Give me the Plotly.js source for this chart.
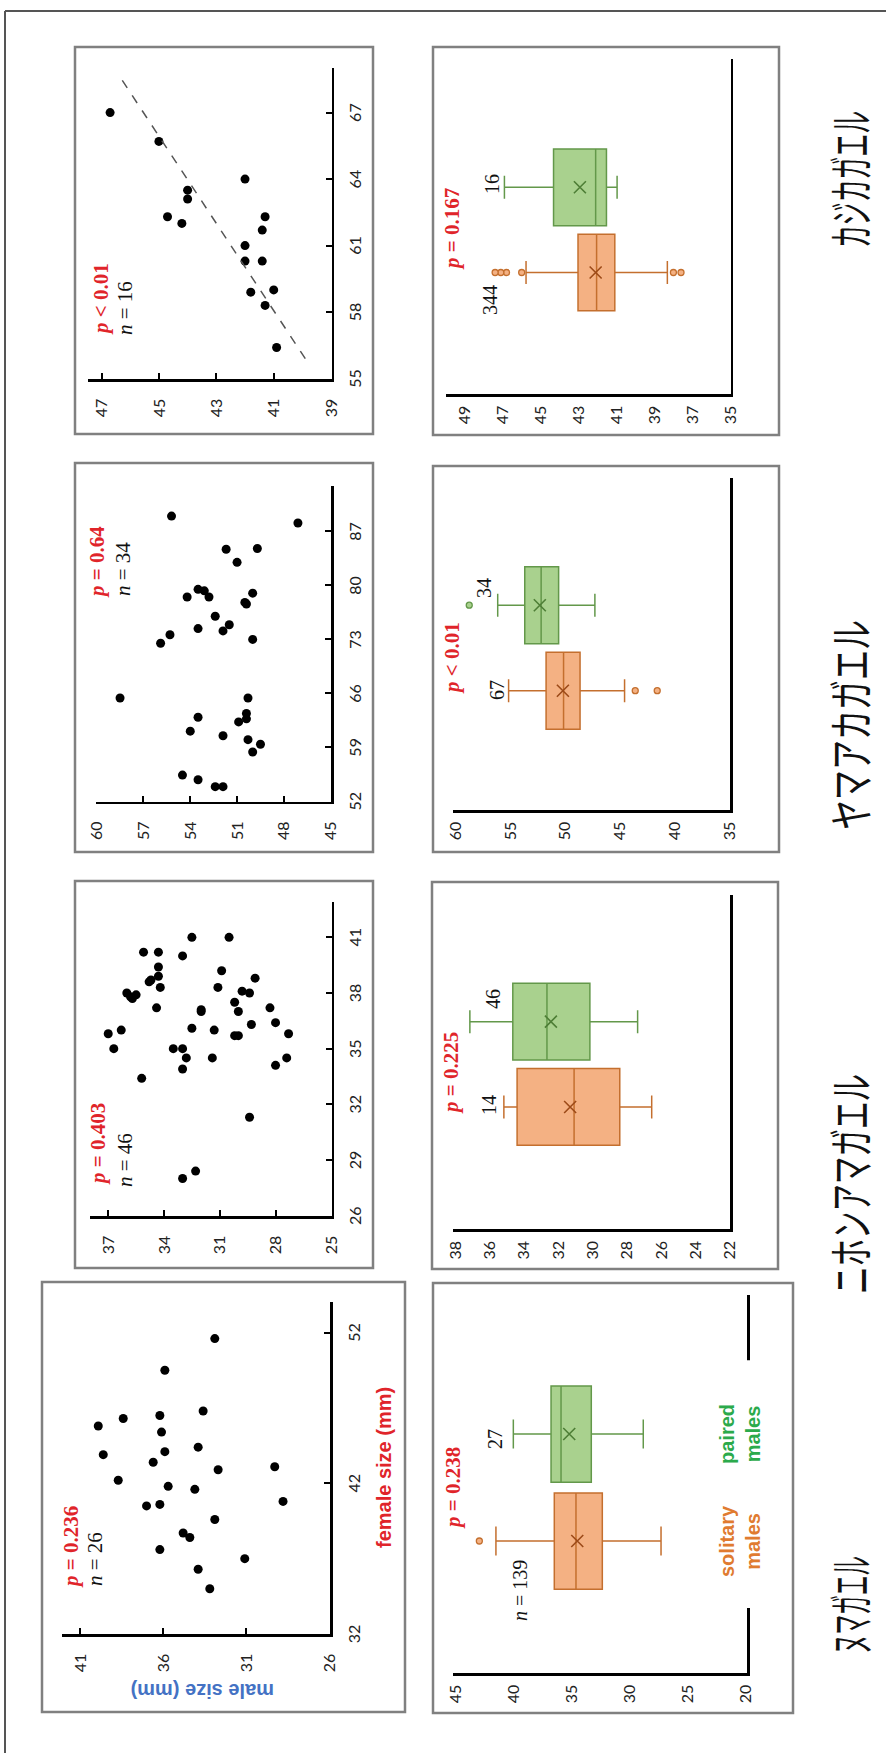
<!DOCTYPE html>
<html><head><meta charset="utf-8">
<script src="https://cdn.plot.ly/plotly-3.0.1.min.js"></script>
<style>
html,body{margin:0;padding:0;overflow:hidden;background:#fff;width:886px;height:1753px;}
#wrap{position:absolute;left:0;top:0;width:1753px;height:886px;transform-origin:0 0;transform:translate(0px,1753px) rotate(-90deg);}
</style></head><body>
<div id="wrap"><div id="chart" style="width:1753px;height:886px;"></div></div>
<script>
// ---------------- DATA ----------------
const species = ['ヌマガエル','ニホンアマガエル','ヤマアカガエル','カジカガエル'];
const groupLabels = ['solitary<br>males','paired<br>males'];
const boxPos = [0, 1];

// scatter: female size (x) vs male size (y)
const numaFemale = [45.8,43.9,46.3,42.2,43.4,40.5,40.6,46.5,45.4,44.1,41.8,49.5,37.6,38.7,38.4,41.6,44.4,46.8,36.3,35.0,39.6,42.9,51.6,37.0,43.1,40.8];
const numaMale   = [39.9,39.6,38.4,38.7,36.6,37.0,36.2,36.2,36.1,35.9,35.7,35.9,36.2,34.8,34.4,34.1,33.9,33.6,33.9,33.2,32.9,32.7,32.9,31.1,29.3,28.8];
const nihonFemale = [35.8,35.0,36.0,38.0,37.8,37.7,37.9,33.4,40.2,38.6,38.7,37.2,40.2,39.4,38.9,38.3,35.0,35.0,33.9,34.5,28.0,28.4,40.0,41.0,36.1,37.1,37.0,34.5,36.0,38.3,39.2,41.0,37.5,37.0,35.7,35.7,38.1,38.0,36.3,31.3,38.8,37.2,36.4,34.1,34.5,35.8];
const nihonMale   = [37.0,36.7,36.3,36.0,35.8,35.7,35.5,35.2,35.1,34.8,34.7,34.4,34.3,34.3,34.3,34.2,33.5,33.0,33.0,32.8,33.0,32.3,33.0,32.5,32.5,32.0,32.0,31.4,31.3,31.1,30.9,30.5,30.2,30.0,30.2,30.0,29.8,29.4,29.3,29.4,29.1,28.3,28.0,28.0,27.4,27.3];
const yamaFemale = [89.0,88.1,84.7,84.8,83.0,78.5,79.5,79.3,78.5,79.0,77.8,77.6,76.0,74.4,74.1,74.9,72.5,73.6,73.0,65.4,65.4,62.9,63.4,62.7,62.3,61.1,60.5,60.0,59.4,58.4,55.4,54.8,53.9,53.9];
const yamaMale   = [55.2,47.1,51.7,49.7,51.0,54.2,53.5,53.1,52.8,50.0,50.5,50.4,52.4,53.5,51.9,51.5,55.9,55.3,50.0,58.5,50.3,53.5,50.4,50.4,50.9,54.0,51.9,50.3,49.5,50.0,54.5,53.5,52.4,51.9];
const kajikaFemale = [67.0,65.7,62.3,62.0,63.5,63.1,64.0,62.3,61.7,61.0,60.3,60.3,58.9,59.0,58.3,56.4];
const kajikaMale   = [46.7,45.0,44.7,44.2,44.0,44.0,42.0,41.3,41.4,42.0,42.0,41.4,41.8,41.0,41.3,40.9];
const kajikaTrendX = [55.9, 68.5];
const kajikaTrendY = [39.9, 46.3];

// box plots: [solitary, paired]
const numaQ1 = [32.3, 33.25], numaMed = [34.57, 35.86], numaQ3 = [36.44, 36.72], numaLo = [27.24, 28.77], numaHi = [41.47, 39.97], numaMean = [34.46, 35.15];
const nihonQ1 = [28.4, 30.14], nihonMed = [31.06, 32.64], nihonQ3 = [34.38, 34.63], nihonLo = [26.54, 27.36], nihonHi = [35.15, 37.13], nihonMean = [31.29, 32.41];
const yamaQ1 = [48.62, 50.57], yamaMed = [50.12, 52.16], yamaQ3 = [51.71, 53.65], yamaLo = [44.57, 47.27], yamaHi = [55.12, 56.11], yamaMean = [50.18, 52.28];
const kajikaQ1 = [41.09, 41.53], kajikaMed = [42.05, 42.10], kajikaQ3 = [43.03, 44.32], kajikaLo = [38.32, 40.97], kajikaHi = [45.77, 46.91], kajikaMean = [42.10, 42.93];
const numaOutSol = [42.9], numaOutPair = [];
const nihonOutSol = [], nihonOutPair = [];
const yamaOutSol = [43.6, 41.6], yamaOutPair = [58.7];
const kajikaOutSol = [46.0, 46.8, 47.1, 47.4, 38.0, 37.6], kajikaOutPair = [];

// labels
const scatterPSign = ['=', '=', '=', '<'];
const scatterPVal = ['0.236', '0.403', '0.64', '0.01'];
const scatterN = [26, 46, 34, 16];
const boxPSign = ['=', '=', '<', '='];
const boxPVal = ['0.238', '0.225', '0.01', '0.167'];
const boxNSol = [139, 14, 67, 344];
const boxNPair = [27, 46, 34, 16];

// tick values
const scatterXTicks = [[32,42,52],[26,29,32,35,38,41],[52,59,66,73,80,87],[55,58,61,64,67]];
const scatterYTicks = [[26,31,36,41],[25,28,31,34,37],[45,48,51,54,57,60],[39,41,43,45,47]];
const boxYTicks = [[20,25,30,35,40,45],[22,24,26,28,30,32,34,36,38],[35,40,45,50,55,60],[35,37,39,41,43,45,47,49]];

// ---------------- LAYOUT HELPERS ----------------
const W = 1753, H = 886;
const px = X => X / W;
const py = Y => 1 - Y / H;
const RED = '#e0242a';
const ORF = '#F4B183', ORL = '#C46F2E', ORX = '#9C4A18';
const GRF = '#A9D18E', GRL = '#63984A', GRX = '#4E7E36';

const layout = {
  width: W, height: H, margin: {l:0, r:0, t:0, b:0},
  paper_bgcolor: '#ffffff', plot_bgcolor: 'rgba(0,0,0,0)',
  showlegend: false, boxmode: 'overlay',
  annotations: [], shapes: []
};
const tickFont = {family: 'Lato, "Liberation Sans", sans-serif', size: 16, color: '#222'};
const baseAx = {showgrid:false, zeroline:false, showline:true, linecolor:'#000', linewidth:2.5, fixedrange:true, tickfont:tickFont, type:'linear'};

// panel geometry in landscape pixels: [X0, X1, Y0(top), Y1(bottom)], ranges
const scatterGeo = [[119,451.3,62.3,330],[537,851.3,90,331.7],[951.3,1267,95.7,331],[1374,1684.7,88.3,331.7]];
const scatterXR = [[32,54.05],[25.98,42.92],[51.95,92.9],[54.98,69.0]];
const scatterYR = [[25.98,42.06],[24.98,37.98],[44.98,60.06],[38.98,47.46]];
const boxGeo = [[80,458,453,747],[523.7,858,452.7,730],[943,1274.7,453.3,730],[1359,1693.7,446,730.7]];
const boxXR = [[-1.234,2.30],[-1.434,2.485],[-1.395,2.484],[-1.426,2.502]];
const boxYR = [[19.83,45.17],[21.98,38.13],[34.98,60.15],[34.98,49.99]];

function axName(k){ return k===1 ? ['xaxis','yaxis','x','y'] : ['xaxis'+k,'yaxis'+k,'x'+k,'y'+k]; }

const traces = [];
const scatterX = [numaFemale, nihonFemale, yamaFemale, kajikaFemale];
const scatterY = [numaMale, nihonMale, yamaMale, kajikaMale];
const bQ1=[numaQ1,nihonQ1,yamaQ1,kajikaQ1], bMed=[numaMed,nihonMed,yamaMed,kajikaMed], bQ3=[numaQ3,nihonQ3,yamaQ3,kajikaQ3];
const bLo=[numaLo,nihonLo,yamaLo,kajikaLo], bHi=[numaHi,nihonHi,yamaHi,kajikaHi], bMean=[numaMean,nihonMean,yamaMean,kajikaMean];
const bOut=[[numaOutSol,numaOutPair],[nihonOutSol,nihonOutPair],[yamaOutSol,yamaOutPair],[kajikaOutSol,kajikaOutPair]];

for (let i=0;i<4;i++){
  const ks = 2*i+1, kb = 2*i+2;
  const [sxn, syn, sxa, sya] = axName(ks);
  const g = scatterGeo[i];
  layout[sxn] = Object.assign({}, baseAx, {domain:[px(g[0]),px(g[1])], range:scatterXR[i], anchor:sya,
     tickvals:scatterXTicks[i], ticks:'inside', ticklen:6, tickwidth:2, tickcolor:'#000', ticklabelstandoff:8});
  layout[syn] = Object.assign({}, baseAx, {domain:[py(g[3]),py(g[2])], range:scatterYR[i], anchor:sxa,
     tickvals:scatterYTicks[i], ticks:'inside', ticklen:6, tickwidth:2, tickcolor:'#000', ticklabelstandoff:14});
  traces.push({type:'scatter', mode:'markers', x:scatterX[i], y:scatterY[i], xaxis:sxa, yaxis:sya,
     marker:{color:'#000', size:9}, hoverinfo:'skip'});

  const [bxn, byn, bxa, bya] = axName(kb);
  const b = boxGeo[i];
  layout[bxn] = Object.assign({}, baseAx, {domain:[px(b[0]),px(b[1])], range:boxXR[i], anchor:bya,
     showticklabels:false, ticks:''});
  layout[byn] = Object.assign({}, baseAx, {domain:[py(b[3]),py(b[2])], range:boxYR[i], anchor:bxa,
     tickvals:boxYTicks[i], ticks:'', ticklabelstandoff:6});
  for (let k=0;k<2;k++){
    traces.push({type:'box', xaxis:bxa, yaxis:bya, x:[boxPos[k]],
      q1:[bQ1[i][k]], median:[bMed[i][k]], q3:[bQ3[i][k]], lowerfence:[bLo[i][k]], upperfence:[bHi[i][k]],
      width:0.9, whiskerwidth:0.3, boxpoints:false,
      fillcolor: k===0?ORF:GRF, line:{color: k===0?ORL:GRL, width:1.5}, hoverinfo:'skip'});
    const outs = bOut[i][k];
    if (outs.length){
      traces.push({type:'scatter', mode:'markers', xaxis:bxa, yaxis:bya, x:outs.map(()=>boxPos[k]), y:outs,
        marker:{symbol:'circle', size:6, color:k===0?ORF:GRF, line:{color:k===0?ORL:GRL, width:1.3}}, hoverinfo:'skip'});
    }
  }
  traces.push({type:'scatter', mode:'markers', xaxis:bxa, yaxis:bya, x:boxPos, y:bMean[i],
     marker:{symbol:'x-thin-open', size:12, color:[ORX,GRX], line:{width:1.6, color:[ORX,GRX]}}, hoverinfo:'skip'});
}
traces.push({type:'scatter', mode:'lines', x:kajikaTrendX, y:kajikaTrendY, xaxis:'x7', yaxis:'y7',
  line:{color:'#555', width:1.5, dash:'dash'}, hoverinfo:'skip'});

// ---------------- SHAPES ----------------
const frames = [[41,471,42,405],[40,470,433,793],[485,872,75,373],[484,871,432,778],[901,1290,75,373],[901,1287,433,779],[1319,1706,75,373],[1318,1706,433,779]];
frames.forEach(f => layout.shapes.push({type:'rect', xref:'paper', yref:'paper', x0:px(f[0]), x1:px(f[1]), y0:py(f[3]), y1:py(f[2]),
  line:{color:'#808080', width:2.5}, fillcolor:'rgba(0,0,0,0)', layer:'below'}));
layout.shapes.push({type:'line', xref:'paper', yref:'paper', x0:0, x1:px(1742), y0:py(5), y1:py(5), line:{color:'#555', width:2}});
layout.shapes.push({type:'line', xref:'paper', yref:'paper', x0:px(1742), x1:px(1742), y0:py(5), y1:0, line:{color:'#555', width:2}});
layout.shapes.push({type:'rect', xref:'x2', yref:'paper', x0:-0.626, x1:1.69, y0:py(757), y1:py(738),
  fillcolor:'#ffffff', line:{width:0}, layer:'above'});

// ---------------- ANNOTATIONS ----------------
const A = layout.annotations;
function ann(text, X, Y, o){ A.push(Object.assign({xref:'paper', yref:'paper', x:px(X), y:py(Y), text:text, showarrow:false,
  xanchor:'left', yanchor:'middle'}, o)); }
const serif = 'Liberation Serif, "Times New Roman", serif';
const sPpos = [[163,71],[566,98],[1153,97],[1416,101]];
const sNpos = [[165,95],[564,125],[1155,123],[1416,125]];
for (let i=0;i<4;i++){
  ann('<b><i>p</i> '+scatterPSign[i]+' '+scatterPVal[i]+'</b>', sPpos[i][0], sPpos[i][1], {font:{family:serif, size:21, color:RED}});
  ann('<i>n</i> = '+scatterN[i], sNpos[i][0], sNpos[i][1], {font:{family:serif, size:21, color:'#111'}});
}
const bPpos = [[265,453],[680,451],[1095,452],[1524,452]];
const bSolPos = [[195,520],[648,489],[1063,497],[1453,490]];
const bPairPos = [[314,495],[754,493],[1165,484],[1569,492]];
for (let i=0;i<4;i++){
  ann('<b><i>p</i> '+boxPSign[i]+' '+boxPVal[i]+'</b>', bPpos[i][0], bPpos[i][1], {xanchor:'center', font:{family:serif, size:21, color:RED}});
  if (i===0) ann('<i>n</i> = '+boxNSol[i], bSolPos[i][0], bSolPos[i][1], {xanchor:'right', font:{family:serif, size:20, color:'#111'}});
  else ann(String(boxNSol[i]), bSolPos[i][0], bSolPos[i][1], {xanchor:'center', font:{family:serif, size:20, color:'#111'}});
  ann(String(boxNPair[i]), bPairPos[i][0], bPairPos[i][1], {xanchor:'center', font:{family:serif, size:20, color:'#111'}});
}
A.push({xref:'x2', yref:'paper', x:boxPos[0], y:py(740), text:'<b>'+groupLabels[0]+'</b>', showarrow:false, xanchor:'center', yanchor:'middle',
  font:{family:'Liberation Sans, Arial, sans-serif', size:20, color:'#E07B30'}});
A.push({xref:'x2', yref:'paper', x:boxPos[1], y:py(740), text:'<b>'+groupLabels[1]+'</b>', showarrow:false, xanchor:'center', yanchor:'middle',
  font:{family:'Liberation Sans, Arial, sans-serif', size:20, color:'#2BAA4B'}});
ann('<b>male size (mm)</b>', 62, 203, {xanchor:'center', textangle:-90, font:{family:'Liberation Sans, Arial, sans-serif', size:20, color:'#4472C4'}});
ann('<b>female size (mm)</b>', 285, 384, {xanchor:'center', font:{family:'Liberation Sans, Arial, sans-serif', size:20, color:RED}});
// species titles: tall condensed lettering (font sized to printed length, then stretched vertically)
const titlePos = [[148,848],[569,848],[1028,848],[1573,848]];
const titleLen = [98, 220, 210, 137];
const titleGlyph = 46;
const titleStart = A.length;
const titleSize = species.map((s, i) => titleLen[i] / s.length);
for (let i=0;i<4;i++){
  ann(species[i], titlePos[i][0], titlePos[i][1], {xanchor:'center', font:{family:'"Noto Sans CJK JP", sans-serif', size:titleSize[i], color:'#111'}});
}

Plotly.newPlot('chart', traces, layout, {staticPlot:true, displayModeBar:false}).then(() => {
  for (let i=0;i<4;i++){
    const g = document.querySelector('#chart .annotation[data-index="'+(titleStart+i)+'"]');
    if (!g) continue;
    const t = g.querySelector('text.annotation-text');
    if (!t) continue;
    const bb = t.getBBox();
    const cx = bb.x + bb.width/2, cy = bb.y + bb.height/2;
    const sy = titleGlyph / titleSize[i];
    t.setAttribute('transform', 'translate('+cx+','+cy+') scale(1,'+sy+') translate('+(-cx)+','+(-cy)+')');
  }
});
</script>
</body></html>
